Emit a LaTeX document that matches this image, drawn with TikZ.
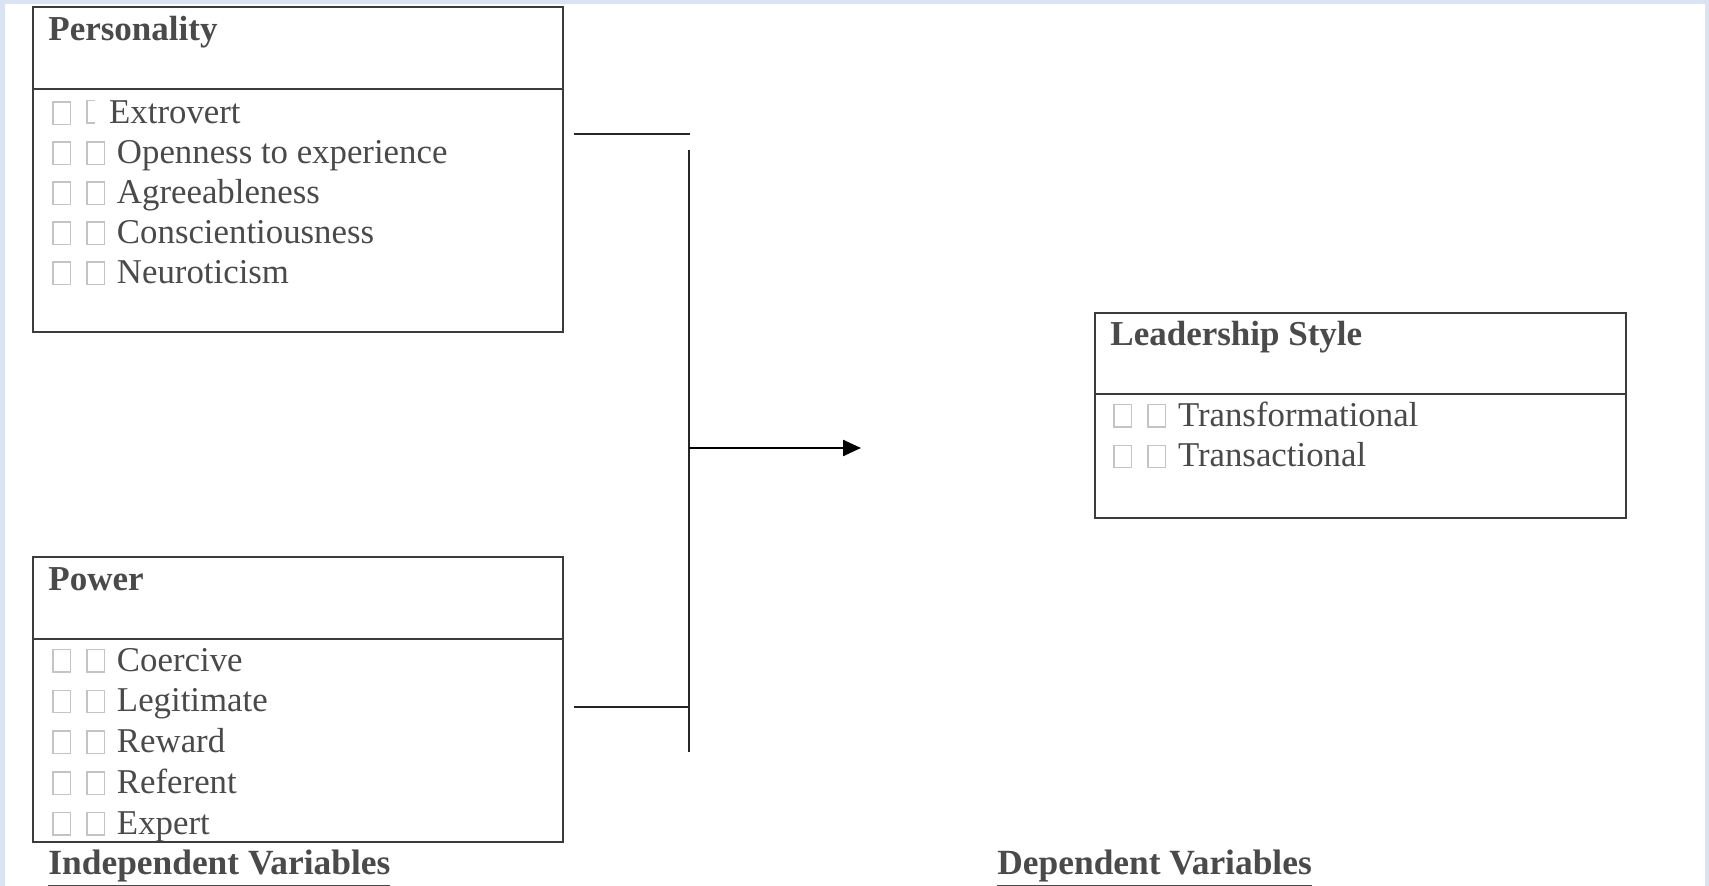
\documentclass[tikz,border=0pt]{standalone}
\usepackage{fontspec}
\setmainfont{Liberation Serif}
\usepackage{xcolor}
\usetikzlibrary{arrows.meta}
\usetikzlibrary{positioning}

\definecolor{framegray}{HTML}{3C3C3C}
\definecolor{textgray}{HTML}{4A4A4A}
\definecolor{tofugray}{HTML}{C4C4C4}
\definecolor{pageblue}{HTML}{DAE3F3}

\newcommand\tofu{{\color{tofugray}\setlength\fboxrule{0.7pt}\setlength\fboxsep{0pt}\fbox{\rule{0pt}{10.5pt}\hspace{8pt}}}}
\newcommand\halftofu{{\color{tofugray}\rule{0.7pt}{11.9pt}\rlap{\rule{3.5pt}{0.7pt}}\rlap{\rule[11.2pt]{3.5pt}{0.7pt}}}}

\begin{document}
\begin{tikzpicture}[x=0.5pt,y=-0.5pt,>={Triangle[length=9pt,width=8pt]},
    box/.style={draw=framegray,line width=1pt,minimum width=265pt,inner sep=0pt,anchor=north west},
    head box/.style={minimum width=265pt,minimum height=41pt,inner sep=0pt,anchor=north west},
    title/.style={font=\fontsize{17.5pt}{20pt}\selectfont\bfseries,text=textgray,inner sep=0pt,anchor=base west},
    item/.style={font=\fontsize{17.4pt}{20pt}\selectfont,text=textgray,inner sep=0pt,text height=14pt,text depth=6pt,anchor=north west},
    link/.style={draw=black!85,line width=1.2pt}]

      \fill[pageblue] (0,0) rectangle (1709,886);
      \fill[white] (4.5,4.5) rectangle (1704.5,886);
      \useasboundingbox (0,0) rectangle (1709,886);

      % personality
      \node[box,minimum height=162.25pt] (pers) at (32,6.5) {};
      \node[head box] (phead) at (32,6.5) {};
      \draw[framegray,line width=1pt] (phead.south west) -- (phead.south east);
      \node[title] (ptitle) [below right=17.2pt and 8pt of phead.north west,anchor=base west] {Personality};
      \node[item,text depth=5.6pt] (p1) [below right=3pt and 10pt of phead.south west] {\tofu\hspace{7.5pt}\halftofu\hspace{10.8pt}Extrovert};
      \node[item,text depth=5.6pt] (p2) [below=0pt of p1.south west,anchor=north west] {\tofu\hspace{7.5pt}\tofu\hspace{6pt}Openness to experience};
      \node[item,text depth=5.6pt] (p3) [below=0pt of p2.south west,anchor=north west] {\tofu\hspace{7.5pt}\tofu\hspace{6pt}Agreeableness};
      \node[item,text depth=5.6pt] (p4) [below=0pt of p3.south west,anchor=north west] {\tofu\hspace{7.5pt}\tofu\hspace{6pt}Conscientiousness};
      \node[item,text depth=5.6pt] (p5) [below=0pt of p4.south west,anchor=north west] {\tofu\hspace{7.5pt}\tofu\hspace{6pt}Neuroticism};

      % power
      \node[box,minimum height=142.5pt] (power) at (32,556) {};
      \node[head box] (whead) at (32,556) {};
      \draw[framegray,line width=1pt] (whead.south west) -- (whead.south east);
      \node[title] (wtitle) [below right=17.2pt and 8pt of whead.north west,anchor=base west] {Power};
      \node[item] (w1) [below right=2pt and 10pt of whead.south west] {\tofu\hspace{7.5pt}\tofu\hspace{6pt}Coercive};
      \node[item] (w2) [below=0pt of w1.south west,anchor=north west] {\tofu\hspace{7.5pt}\tofu\hspace{6pt}Legitimate};
      \node[item] (w3) [below=0pt of w2.south west,anchor=north west] {\tofu\hspace{7.5pt}\tofu\hspace{6pt}Reward};
      \node[item] (w4) [below=0pt of w3.south west,anchor=north west] {\tofu\hspace{7.5pt}\tofu\hspace{6pt}Referent};
      \node[item] (w5) [below=0pt of w4.south west,anchor=north west] {\tofu\hspace{7.5pt}\tofu\hspace{6pt}Expert};

      % leadership style
      \node[box,minimum width=265.5pt,minimum height=102.5pt] (lead) at (1094,312) {};
      \node[head box,minimum width=265.5pt,minimum height=40.5pt] (lhead) at (1094,312) {};
      \draw[framegray,line width=1pt] (lhead.south west) -- (lhead.south east);
      \node[title] (ltitle) [below right=17pt and 8pt of lhead.north west,anchor=base west] {Leadership Style};
      \node[item] (l1) [below right=2pt and 9.5pt of lhead.south west] {\tofu\hspace{7.5pt}\tofu\hspace{6pt}Transformational};
      \node[item] (l2) [below=0pt of l1.south west,anchor=north west] {\tofu\hspace{7.5pt}\tofu\hspace{6pt}Transactional};

      \node[title,font=\fontsize{17.7pt}{20pt}\selectfont\bfseries] (indep) at (48,875) {\underline{Independent Variables}};
      \node[title,font=\fontsize{17.7pt}{20pt}\selectfont\bfseries] (dep) at (997,875) {\underline{Dependent Variables}};

      % bracket and arrow
      \coordinate (pstub) at (574,134);
      \coordinate (pjoin) at (690,134);
      \coordinate (wstub) at (574,707);
      \coordinate (wjoin) at (689,707);
      \coordinate (vtop) at (689,150);
      \coordinate (vbot) at (689,752);
      \coordinate (fork) at (689,448);
      \coordinate (tip) at (861,448);
      \path[link]
        (pstub) edge (pjoin)
        (wstub) edge (wjoin)
        (vtop) edge (vbot);
      \draw[link,draw=black,->] (fork) -- (tip);
\end{tikzpicture}
\end{document}
